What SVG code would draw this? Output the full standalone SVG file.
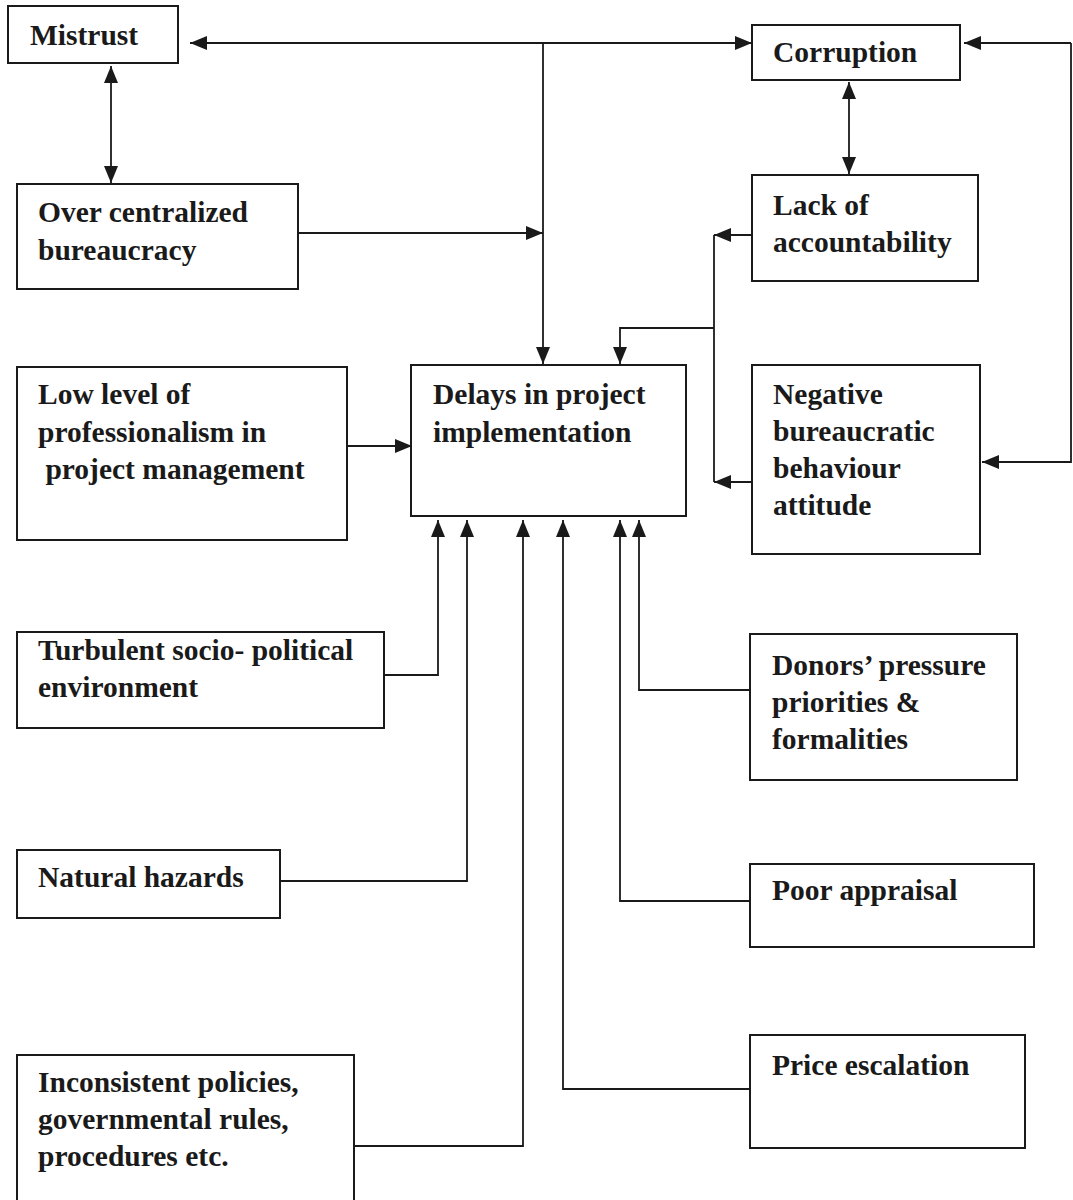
<svg xmlns="http://www.w3.org/2000/svg" width="1073" height="1200" viewBox="0 0 1073 1200">
<style>
.box{fill:#fff;stroke:#1a1a1a;stroke-width:2}
.t{font-family:"Liberation Serif","Times New Roman",serif;font-weight:bold;font-size:29.5px;fill:#1a1a1a}
.c{fill:none;stroke:#1a1a1a;stroke-width:1.8}
</style>
<defs>
<marker id="ah" markerUnits="userSpaceOnUse" markerWidth="18" markerHeight="14" refX="17" refY="7" orient="auto-start-reverse">
<path d="M0,0 L17,7 L0,14 z" fill="#1a1a1a"/>
</marker>
</defs>
<rect width="1073" height="1200" fill="#fff"/>
<g id="connectors">
<path class="c" d="M752,43 L190,43" marker-start="url(#ah)" marker-end="url(#ah)"/>
<path class="c" d="M543,43 L543,364" marker-end="url(#ah)"/>
<path class="c" d="M1071,43 L964,43" marker-end="url(#ah)"/>
<path class="c" d="M1071,43 L1071,462 L982,462" marker-end="url(#ah)"/>
<path class="c" d="M111,66 L111,183" marker-start="url(#ah)" marker-end="url(#ah)"/>
<path class="c" d="M298,233 L543,233" marker-end="url(#ah)"/>
<path class="c" d="M849,82 L849,174" marker-start="url(#ah)" marker-end="url(#ah)"/>
<path class="c" d="M752,235 L714,235" marker-end="url(#ah)"/>
<path class="c" d="M714,235 L714,482"/>
<path class="c" d="M752,482 L714,482" marker-end="url(#ah)"/>
<path class="c" d="M714,328 L620,328 L620,364" marker-end="url(#ah)"/>
<path class="c" d="M347,446 L412,446" marker-end="url(#ah)"/>
<path class="c" d="M384,675 L438,675 L438,520" marker-end="url(#ah)"/>
<path class="c" d="M280,881 L467,881 L467,520" marker-end="url(#ah)"/>
<path class="c" d="M354,1146 L523,1146 L523,520" marker-end="url(#ah)"/>
<path class="c" d="M750,1089 L563,1089 L563,520" marker-end="url(#ah)"/>
<path class="c" d="M750,901 L620,901 L620,520" marker-end="url(#ah)"/>
<path class="c" d="M750,690 L639,690 L639,520" marker-end="url(#ah)"/>
</g>
<g id="mistrust"><rect class="box" x="8" y="6" width="170" height="57"/><text class="t" x="30" y="45">Mistrust</text></g>
<g id="corruption"><rect class="box" x="752" y="25" width="208" height="55"/><text class="t" x="773" y="62">Corruption</text></g>
<g id="over-centralized"><rect class="box" x="17" y="184" width="281" height="105"/><text class="t" x="38" y="222">Over centralized</text><text class="t" x="38" y="260">bureaucracy</text></g>
<g id="lack-accountability"><rect class="box" x="752" y="175" width="226" height="106"/><text class="t" x="773" y="215">Lack of</text><text class="t" x="773" y="252">accountability</text></g>
<g id="low-level"><rect class="box" x="17" y="367" width="330" height="173"/><text class="t" x="38" y="404">Low level of</text><text class="t" x="38" y="442">professionalism in</text><text class="t" x="38" y="479" xml:space="preserve"> project management</text></g>
<g id="delays"><rect class="box" x="411" y="365" width="275" height="151"/><text class="t" x="433" y="404">Delays in project</text><text class="t" x="433" y="442">implementation</text></g>
<g id="negative"><rect class="box" x="752" y="365" width="228" height="189"/><text class="t" x="773" y="404">Negative</text><text class="t" x="773" y="441">bureaucratic</text><text class="t" x="773" y="478">behaviour</text><text class="t" x="773" y="515">attitude</text></g>
<g id="turbulent"><rect class="box" x="17" y="632" width="367" height="96"/><text class="t" x="38" y="660">Turbulent socio- political</text><text class="t" x="38" y="697">environment</text></g>
<g id="donors"><rect class="box" x="750" y="634" width="267" height="146"/><text class="t" x="772" y="675">Donors’ pressure</text><text class="t" x="772" y="712">priorities &amp;</text><text class="t" x="772" y="749">formalities</text></g>
<g id="natural"><rect class="box" x="17" y="850" width="263" height="68"/><text class="t" x="38" y="887">Natural hazards</text></g>
<g id="poor-appraisal"><rect class="box" x="750" y="864" width="284" height="83"/><text class="t" x="772" y="900">Poor appraisal</text></g>
<g id="price"><rect class="box" x="750" y="1035" width="275" height="113"/><text class="t" x="772" y="1075">Price escalation</text></g>
<g id="inconsistent"><rect class="box" x="17" y="1055" width="337" height="150"/><text class="t" x="38" y="1092">Inconsistent policies,</text><text class="t" x="38" y="1129">governmental rules,</text><text class="t" x="38" y="1166">procedures etc.</text></g>
</svg>
